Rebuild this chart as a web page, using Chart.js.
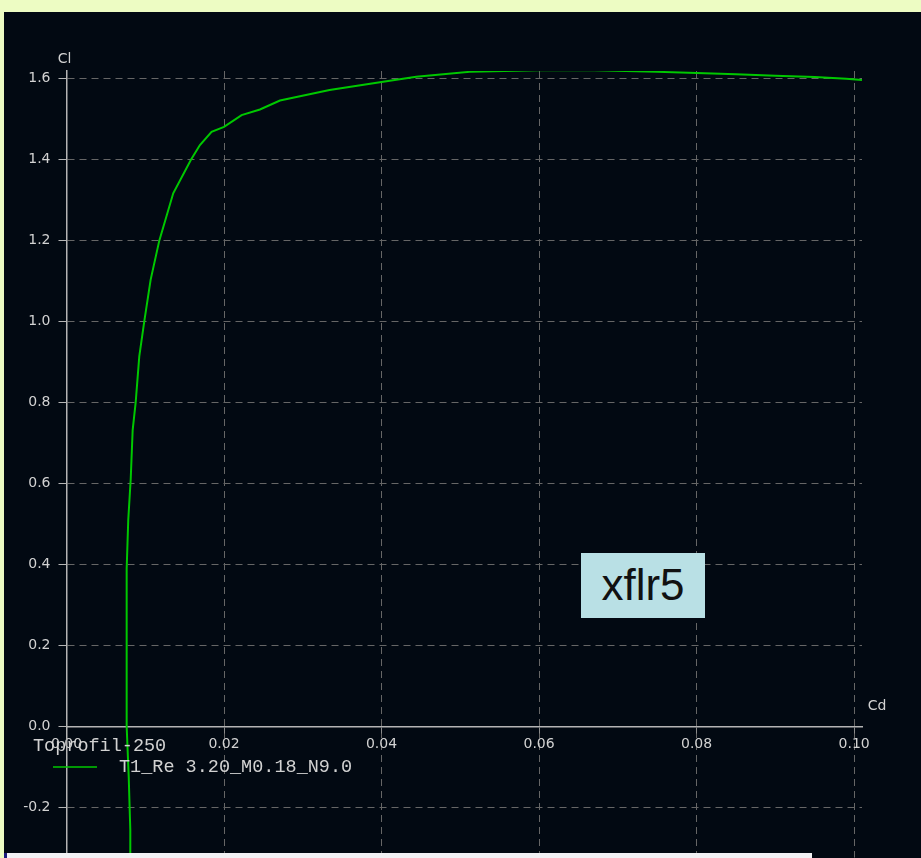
<!DOCTYPE html>
<html>
<head>
<meta charset="utf-8">
<title>xflr5 polar</title>
<script src="https://cdn.jsdelivr.net/npm/chart.js@4.4.0/dist/chart.umd.min.js"></script>
<style>
  html, body {
    margin: 0;
    padding: 0;
    width: 921px;
    height: 858px;
    overflow: hidden;
    background: #edfcc3;
  }
  #panel {
    position: absolute;
    left: 4px;
    top: 12px;
    width: 917px;
    height: 862px;
    background: #020912;
  }
  #stamp {
    position: absolute;
    left: 581px;
    top: 553px;
    width: 124px;
    height: 65px;
    background: #b9e0e5;
    color: #111;
    font: 44px "Liberation Sans", Arial, sans-serif;
    line-height: 64px;
    text-align: center;
  }
  #strip {
    position: absolute;
    left: 4px;
    top: 853px;
    width: 808px;
    height: 5px;
    background: #f2f2f5;
    border-left: 3px solid #1a1a7a;
    box-sizing: border-box;
  }
</style>
</head>
<body>
<div id="panel"><canvas id="polarChart"></canvas></div>
<div id="stamp">xflr5</div>
<div id="strip"></div>

<script>
// polar: Cd (x) against Cl (y)
const cdValues = [
  0.00815, 0.0081, 0.0079, 0.00764, 0.0076, 0.00768, 0.00784, 0.00815,
  0.0084, 0.00878, 0.00924, 0.00987, 0.01068, 0.01178, 0.01355, 0.0158,
  0.01694, 0.01842, 0.0200, 0.02223, 0.02456, 0.0271, 0.0334, 0.0400,
  0.0444, 0.0512, 0.0600, 0.0670, 0.0750, 0.0800, 0.0850, 0.0900,
  0.0950, 0.0990, 0.1010
];
const clValues = [
  -0.34, -0.255, -0.125, 0.0, 0.2, 0.39, 0.51, 0.61,
  0.732, 0.8, 0.914, 1.0, 1.103, 1.2, 1.317, 1.4,
  1.436, 1.469, 1.481, 1.51, 1.524, 1.546, 1.572, 1.592,
  1.605, 1.617, 1.621, 1.621, 1.617, 1.614, 1.611, 1.607,
  1.604, 1.600, 1.597
];

const cdTicks = [0.0, 0.02, 0.04, 0.06, 0.08, 0.10];
const clTicks = [-0.2, 0.0, 0.2, 0.4, 0.6, 0.8, 1.0, 1.2, 1.4, 1.6];

const foilName = "Toprofil-250";
const polarName = "T1_Re 3.20_M0.18_N9.0";

const lineColor = "#00c800";
const textColor = "#d2d2d2";
const monoFont = '18.5px "Liberation Mono", "Courier New", monospace';
const tickFont = { family: "DejaVu Sans", size: 14 };

// axis names and the foil legend, drawn where xflr5 puts them
const annotations = {
  id: "annotations",
  afterDraw(chart) {
    const ctx = chart.ctx;
    const x = chart.scales.x;
    const y = chart.scales.y;
    const x0 = x.getPixelForValue(0);
    const y0 = y.getPixelForValue(0);

    ctx.save();
    ctx.fillStyle = textColor;
    ctx.font = '14px "DejaVu Sans"';
    ctx.textBaseline = "middle";
    ctx.textAlign = "center";
    ctx.fillText("Cl", x0 - 2, chart.chartArea.top - 12);
    ctx.fillText("Cd", chart.chartArea.right + 15, y0 - 20);

    ctx.font = monoFont;
    ctx.textAlign = "left";
    ctx.fillText(foilName, x0 - 33.5, y0 + 20);
    ctx.fillText(polarName, x0 + 52.5, y0 + 40.5);

    ctx.strokeStyle = lineColor;
    ctx.lineWidth = 1.5;
    ctx.beginPath();
    ctx.moveTo(x0 - 13.5, y0 + 40.5);
    ctx.lineTo(x0 + 30.5, y0 + 40.5);
    ctx.stroke();
    ctx.restore();
  }
};

function buildChart() {
  const ctx = document.getElementById("polarChart").getContext("2d");
  const points = cdValues.map((cd, i) => ({ x: cd, y: clValues[i] }));

  new Chart(ctx, {
    type: "scatter",
    data: {
      datasets: [
        {
          label: polarName,
          data: points,
          showLine: true,
          borderColor: lineColor,
          backgroundColor: lineColor,
          borderWidth: 2,
          pointRadius: 0,
          tension: 0
        }
      ]
    },
    options: {
      responsive: true,
      maintainAspectRatio: false,
      animation: false,
      layout: {
        padding: { top: 59, right: 59, left: 0, bottom: 0 }
      },
      plugins: {
        legend: { display: false },
        title: { display: false },
        tooltip: { enabled: false }
      },
      scales: {
        x: {
          type: "linear",
          position: { y: 0 },
          min: 0,
          max: 0.101,
          afterBuildTicks: (scale) => {
            scale.ticks = cdTicks.map((v) => ({ value: v }));
          },
          afterFit: (scale) => {
            scale.height = 0;
          },
          ticks: {
            color: textColor,
            font: tickFont,
            padding: 4,
            maxRotation: 0,
            callback: (v) => Number(v).toFixed(2)
          },
          grid: {
            color: "#666666",
            lineWidth: 1,
            tickLength: 6,
            tickColor: "#8a8a8a",
            tickBorderDash: []
          },
          border: {
            color: "#b4b4b4",
            width: 1.5,
            dash: [7, 5]
          }
        },
        y: {
          type: "linear",
          position: "left",
          min: -0.324,
          max: 1.619,
          afterBuildTicks: (scale) => {
            scale.ticks = clTicks.map((v) => ({ value: v }));
          },
          afterFit: (scale) => {
            scale.width = 62.5;
          },
          ticks: {
            color: textColor,
            font: tickFont,
            padding: 8,
            callback: (v) => Number(v).toFixed(1)
          },
          grid: {
            color: "#666666",
            lineWidth: 1,
            tickLength: 8,
            tickColor: "#b4b4b4",
            tickBorderDash: []
          },
          border: {
            color: "#b4b4b4",
            width: 1.5,
            dash: [7, 5]
          }
        }
      }
    },
    plugins: [annotations]
  });
}

window.onload = function () {
  buildChart();
};
</script>
</body>
</html>
